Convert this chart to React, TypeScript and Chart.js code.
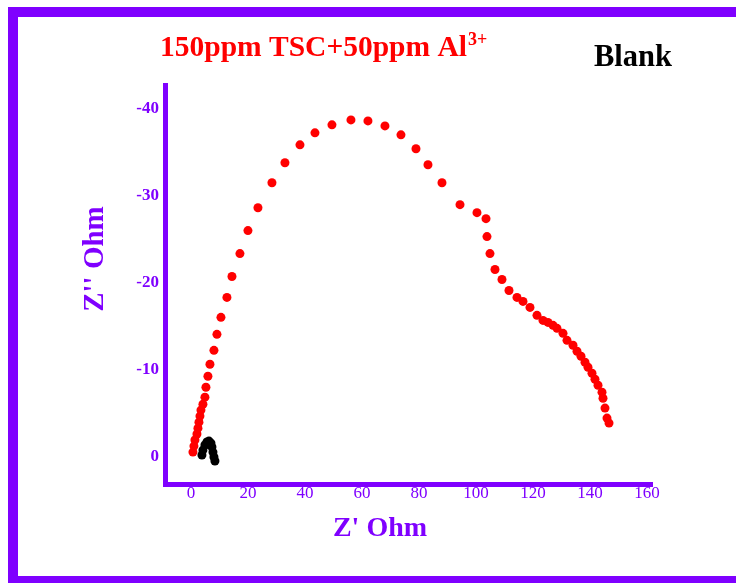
import React, { useEffect, useRef } from "react";
import { Chart, registerables } from "chart.js";

Chart.register(...registerables);

const seriesInhibitorName = "150ppm TSC+50ppm Al";
const seriesInhibitorSup = "3+";
const seriesBlankName = "Blank";
const xAxisTitle = "Z' Ohm";
const yAxisTitle = "Z'' Ohm";

const xTickValues = [0, 20, 40, 60, 80, 100, 120, 140, 160];
const yTickValues = [0, -10, -20, -30, -40];

const inhibitorZre = [
  0.7, 1.05, 1.4, 2.11, 2.46, 2.81, 3.16, 3.51, 4.21, 4.91, 5.26, 5.96, 6.67, 8.07, 9.12, 10.53,
  12.63, 14.39, 17.19, 20.0, 23.51, 28.42, 32.98, 38.25, 43.51, 49.47, 56.14, 62.1, 68.07, 73.68,
  78.95, 83.16, 88.07, 94.39, 100.35, 103.51, 103.86, 104.91, 106.67, 109.12, 111.58, 114.39,
  116.49, 118.95, 121.4, 123.51, 125.26, 127.02, 128.42, 130.53, 131.93, 134.04, 135.44, 136.84,
  138.25, 139.3, 140.7, 141.75, 142.81, 144.21, 144.56, 145.26, 145.96, 146.67,
];
const inhibitorZim = [
  -0.57, -1.26, -1.95, -2.64, -3.32, -4.01, -4.7, -5.39, -6.07, -6.88, -8.02, -9.28, -10.66, -12.26,
  -14.1, -16.05, -18.34, -20.74, -23.38, -26.02, -28.65, -31.52, -33.81, -35.87, -37.25, -38.17,
  -38.74, -38.62, -38.05, -37.02, -35.42, -33.58, -31.52, -29.0, -28.08, -27.39, -25.33, -23.38,
  -21.55, -20.4, -19.14, -18.34, -17.88, -17.19, -16.28, -15.7, -15.47, -15.13, -14.79, -14.21,
  -13.41, -12.84, -12.15, -11.58, -10.89, -10.32, -9.63, -8.94, -8.25, -7.45, -6.76, -5.62, -4.47,
  -3.9,
];

const blankZre = [3.86, 4.21, 4.91, 5.61, 6.32, 7.02, 7.37, 7.72, 8.07, 8.42];
const blankZim = [-0.23, -0.8, -1.38, -1.72, -1.83, -1.6, -1.15, -0.57, 0, 0.46];

const PURPLE = "#7F00FF";
const SERIF = '"Liberation Serif", "DejaVu Serif", serif';

const decorPlugin = {
  id: "decor",
  beforeDraw(chart: any) {
    const ctx = chart.ctx;
    ctx.save();
    ctx.fillStyle = "#ffffff";
    ctx.fillRect(0, 0, chart.width, chart.height);
    ctx.fillStyle = PURPLE;
    ctx.fillRect(8, 7, chart.width - 8, 10);
    ctx.fillRect(8, 7, 10, chart.height - 7);
    ctx.fillRect(8, 576, chart.width - 8, 10);
    ctx.restore();
  },
  afterDraw(chart: any) {
    const ctx = chart.ctx;
    ctx.save();
    ctx.textBaseline = "alphabetic";
    ctx.textAlign = "left";
    // red series label
    ctx.fillStyle = "#FF0000";
    ctx.font = `bold 29.5px ${SERIF}`;
    ctx.fillText(seriesInhibitorName, 160, 56);
    const w = ctx.measureText(seriesInhibitorName).width;
    ctx.font = `bold 18px ${SERIF}`;
    ctx.fillText(seriesInhibitorSup, 160 + w + 1, 45);
    // black series label
    ctx.fillStyle = "#000000";
    ctx.font = `bold 30.5px ${SERIF}`;
    ctx.fillText(seriesBlankName, 594, 66);
    // axis titles
    ctx.fillStyle = PURPLE;
    ctx.font = `bold 28px ${SERIF}`;
    ctx.textAlign = "center";
    ctx.fillText(xAxisTitle, 380, 536);
    ctx.font = `bold 29px ${SERIF}`;
    ctx.translate(103, 259);
    ctx.rotate(-Math.PI / 2);
    ctx.fillText(yAxisTitle, 0, 0);
    ctx.restore();
  },
};

export default function App() {
  const ref = useRef<HTMLCanvasElement | null>(null);
  useEffect(() => {
    if (!ref.current) return;
    const chart = new Chart(ref.current, {
      type: "scatter",
      data: {
        datasets: [
          {
            label: seriesInhibitorName + seriesInhibitorSup,
            data: inhibitorZre.map((x, i) => ({ x, y: inhibitorZim[i] })),
            backgroundColor: "#FF0000",
            borderWidth: 0,
            pointRadius: 4.5,
            pointHoverRadius: 4.5,
          },
          {
            label: seriesBlankName,
            data: blankZre.map((x, i) => ({ x, y: blankZim[i] })),
            backgroundColor: "#000000",
            borderWidth: 0,
            pointRadius: 4.5,
            pointHoverRadius: 4.5,
          },
        ],
      },
      options: {
        responsive: false,
        animation: false,
        layout: { padding: { left: 0, top: 85, right: 84, bottom: 0 } },
        plugins: { legend: { display: false }, title: { display: false }, tooltip: { enabled: false } },
        scales: {
          x: {
            type: "linear",
            min: -9.1,
            max: 161.75,
            grid: { display: false, drawTicks: false },
            border: { display: true, color: PURPLE, width: 5 },
            afterBuildTicks: (s: any) => {
              s.ticks = xTickValues.map((v) => ({ value: v }));
            },
            afterFit: (s: any) => {
              s.height = 99;
            },
            ticks: {
              color: PURPLE,
              padding: -1,
              maxRotation: 0,
              autoSkip: false,
              font: { family: SERIF, size: 17, weight: "normal" },
              callback: (v: any) => String(v),
            },
          },
          y: {
            type: "linear",
            reverse: true,
            min: -42.75,
            max: 3.1,
            grid: { display: false, drawTicks: false },
            border: { display: true, color: PURPLE, width: 5 },
            afterBuildTicks: (s: any) => {
              s.ticks = yTickValues.map((v) => ({ value: v }));
            },
            afterFit: (s: any) => {
              s.width = 165;
            },
            ticks: {
              color: PURPLE,
              padding: 6,
              autoSkip: false,
              font: { family: SERIF, size: 17, weight: "bold" },
              callback: (v: any) => String(v),
            },
          },
        },
      },
      plugins: [decorPlugin],
    });
    return () => chart.destroy();
  }, []);
  return (
    <div style={{ position: "absolute", left: 0, top: 0, width: 736, height: 583 }}>
      <canvas ref={ref} width={736} height={583} style={{ display: "block" }} />
    </div>
  );
}
